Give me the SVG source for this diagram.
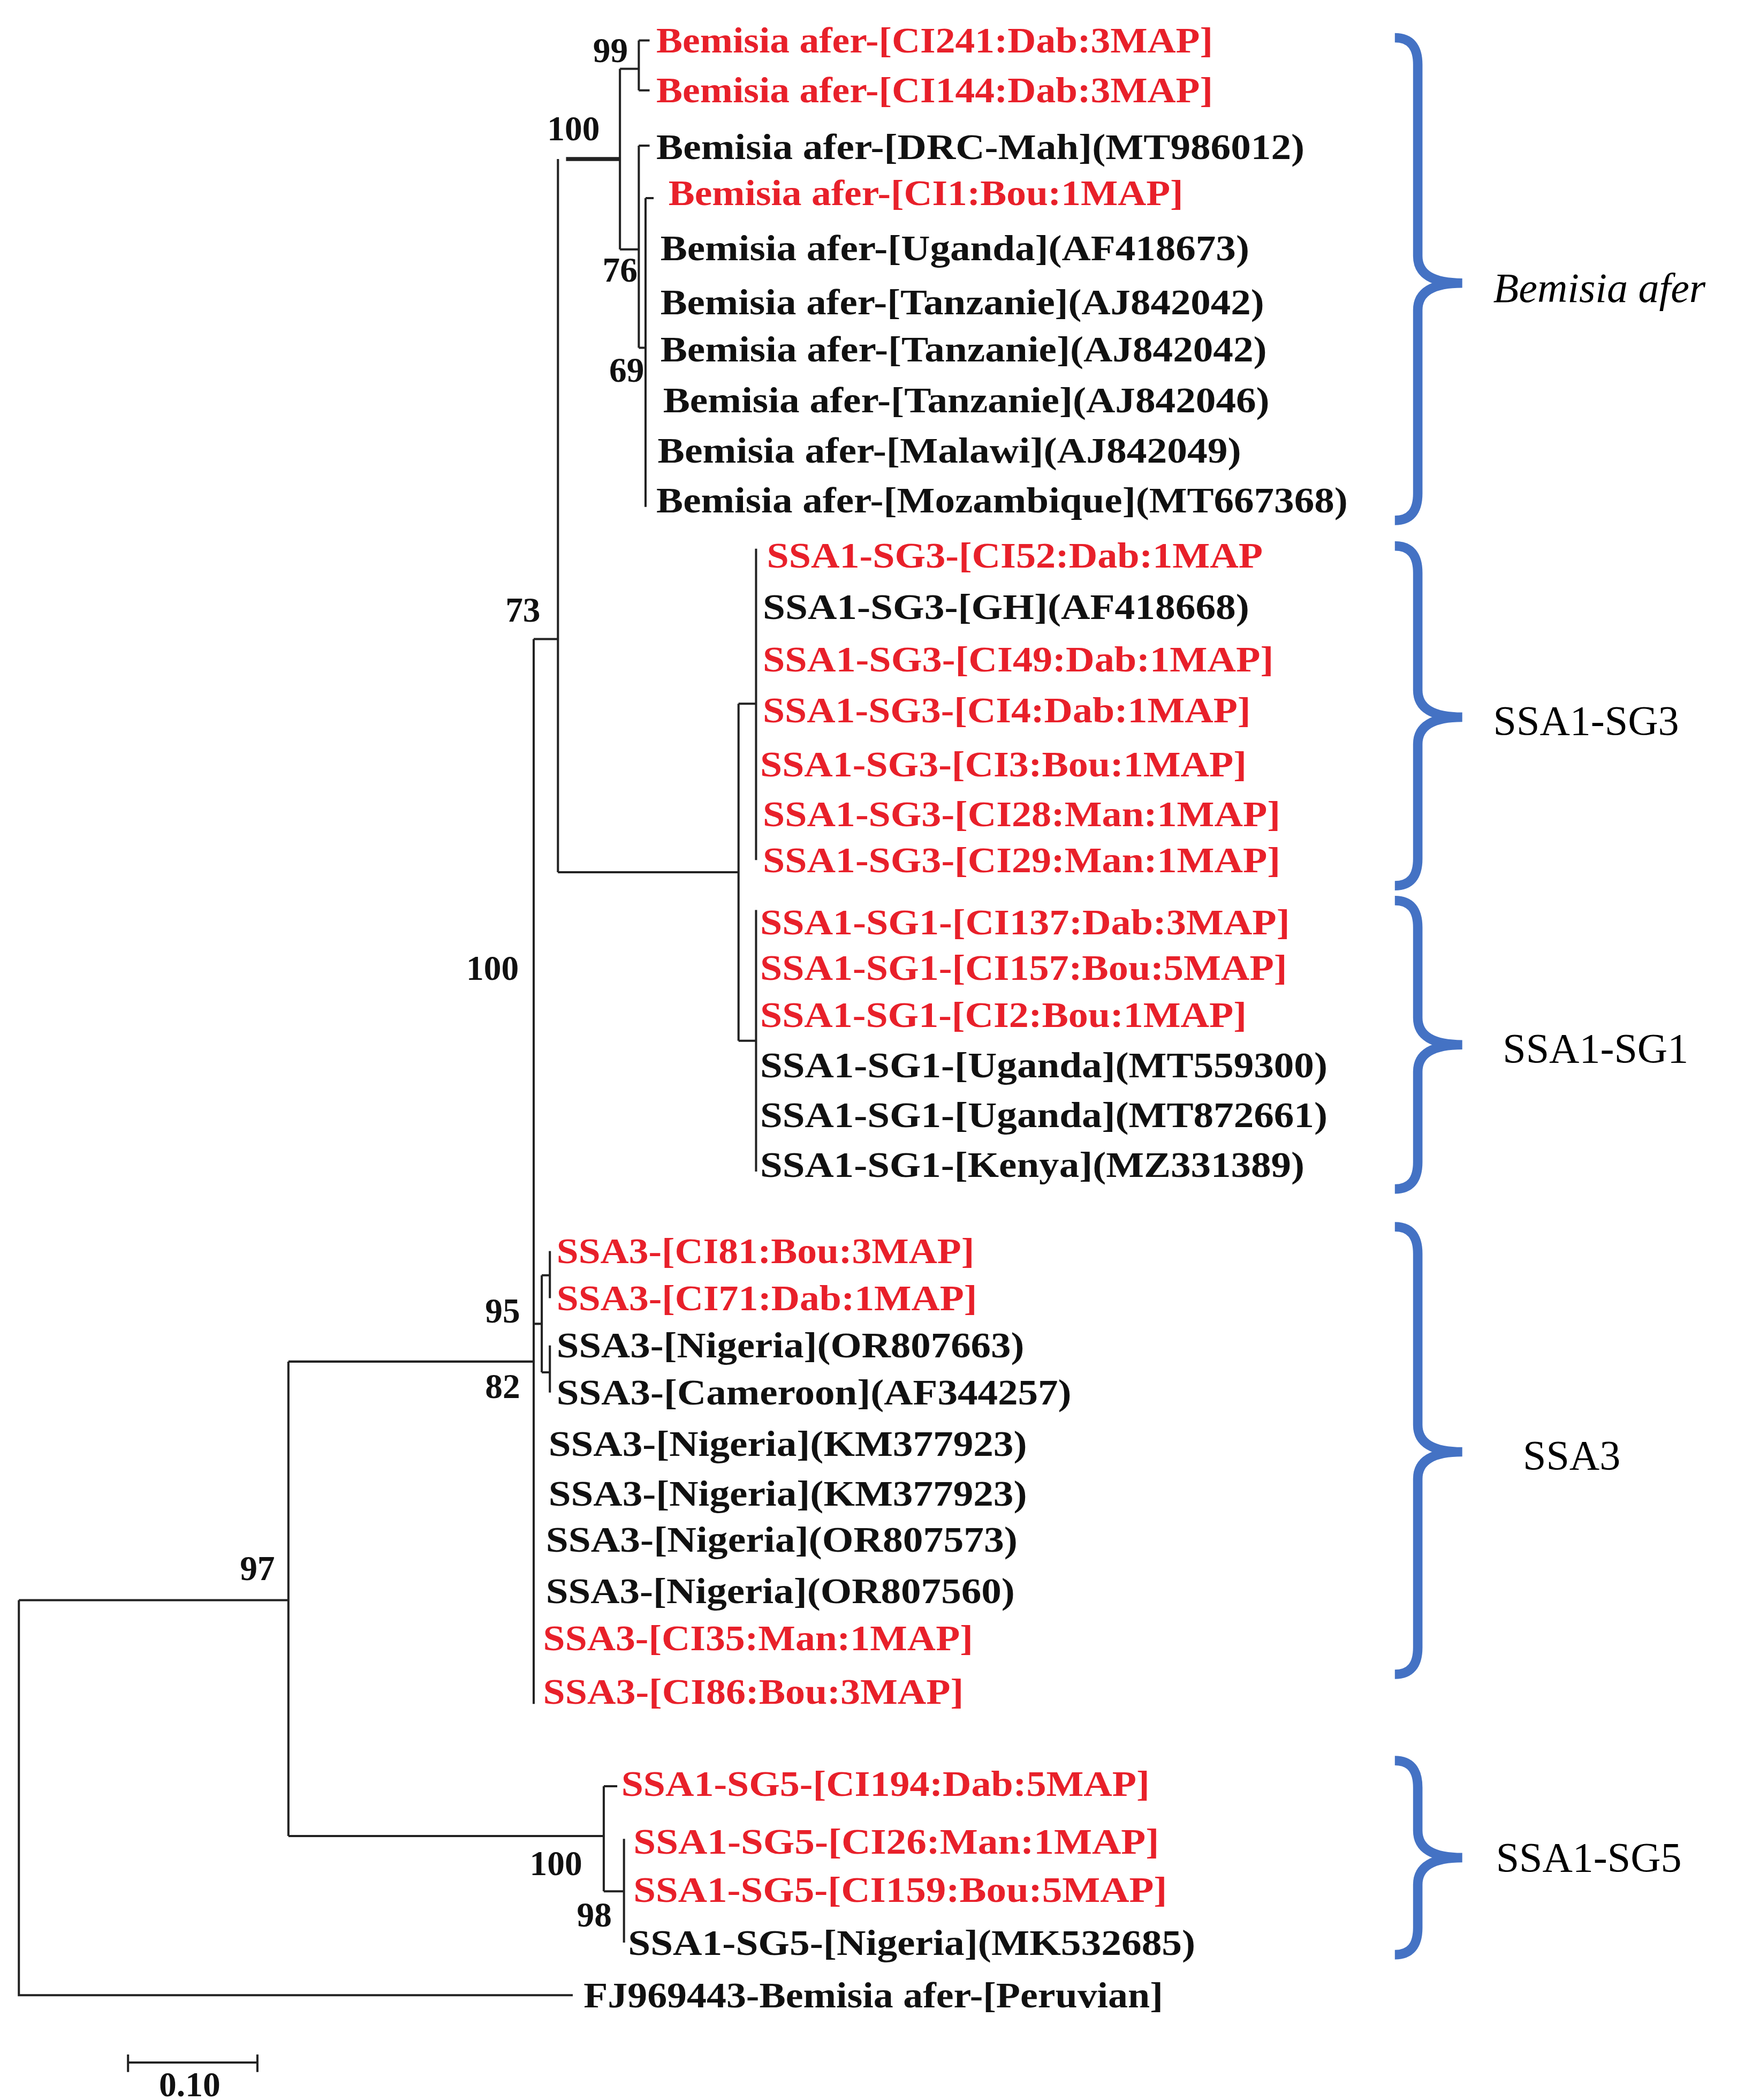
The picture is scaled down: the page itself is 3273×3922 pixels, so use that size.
<svg xmlns="http://www.w3.org/2000/svg" width="3273" height="3922" viewBox="0 0 3273 3922">
<style>
.t{font-family:"Liberation Serif","Times New Roman",serif;font-size:27px;font-weight:bold;fill:#111}
.r{fill:#E8202A}
.b{font-family:"Liberation Serif","Times New Roman",serif;font-size:26px;font-weight:bold;fill:#111}
.l{fill:none;stroke:#222;stroke-width:1.6}
.br{fill:none;stroke:#4472C4;stroke-width:7;stroke-linecap:butt}
.c{font-family:"Liberation Serif","Times New Roman",serif;font-size:31px;fill:#000}
</style>
<rect width="3273" height="3922" fill="#fff"/>
<g transform="scale(2.5177)">
<g id="connectors">
<path class="l" d="M14,1187V1480H425M14,1187H214M214,1010V1362M214,1010H396M214,1362H448"/>
<path class="l" d="M396,474V1264M396,474H414M414,118V647M414,647H548"/>
<path class="l" d="M420,118H460" style="stroke-width:3"/>
<path class="l" d="M460,51V185M460,51H474M474,30V67M474,30H482M474,67H482M460,185H474M474,108V258M474,108H482M474,258H479M479,147V376M479,147H485"/>
<path class="l" d="M548,522V772M548,522H561M561,407V638M548,772H561M561,675V869"/>
<path class="l" d="M396,982H402M402,946V1018M402,946H408M408,928V963M402,1018H408M408,998V1033"/>
<path class="l" d="M448,1325V1403M448,1325H458M448,1403H463M463,1364V1441"/>
<path class="l" d="M95,1530H191M95,1524V1537M191,1524V1537"/>
</g>
<g id="bootstrap">
<text class="b" x="440" y="46">99</text>
<text class="b" x="406" y="104">100</text>
<text class="b" x="447" y="209">76</text>
<text class="b" x="452" y="283">69</text>
<text class="b" x="375" y="461">73</text>
<text class="b" x="346" y="727">100</text>
<text class="b" x="360" y="981">95</text>
<text class="b" x="360" y="1037">82</text>
<text class="b" x="178" y="1172">97</text>
<text class="b" x="393" y="1391">100</text>
<text class="b" x="428" y="1429">98</text>
<text class="b" x="118" y="1555">0.10</text>
</g>
<g id="leaves-afer">
<text class="t r" x="487" y="39" textLength="413" lengthAdjust="spacingAndGlyphs">Bemisia afer-[CI241:Dab:3MAP]</text>
<text class="t r" x="487" y="76" textLength="413" lengthAdjust="spacingAndGlyphs">Bemisia afer-[CI144:Dab:3MAP]</text>
<text class="t" x="487" y="118" textLength="481" lengthAdjust="spacingAndGlyphs">Bemisia afer-[DRC-Mah](MT986012)</text>
<text class="t r" x="496" y="152" textLength="382" lengthAdjust="spacingAndGlyphs">Bemisia afer-[CI1:Bou:1MAP]</text>
<text class="t" x="490" y="193" textLength="437" lengthAdjust="spacingAndGlyphs">Bemisia afer-[Uganda](AF418673)</text>
<text class="t" x="490" y="233" textLength="448" lengthAdjust="spacingAndGlyphs">Bemisia afer-[Tanzanie](AJ842042)</text>
<text class="t" x="490" y="268" textLength="450" lengthAdjust="spacingAndGlyphs">Bemisia afer-[Tanzanie](AJ842042)</text>
<text class="t" x="492" y="306" textLength="450" lengthAdjust="spacingAndGlyphs">Bemisia afer-[Tanzanie](AJ842046)</text>
<text class="t" x="488" y="343" textLength="433" lengthAdjust="spacingAndGlyphs">Bemisia afer-[Malawi](AJ842049)</text>
<text class="t" x="487" y="380" textLength="513" lengthAdjust="spacingAndGlyphs">Bemisia afer-[Mozambique](MT667368)</text>
</g>
<g id="leaves-sg3">
<text class="t r" x="569" y="421" textLength="368" lengthAdjust="spacingAndGlyphs">SSA1-SG3-[CI52:Dab:1MAP</text>
<text class="t" x="566" y="459" textLength="361" lengthAdjust="spacingAndGlyphs">SSA1-SG3-[GH](AF418668)</text>
<text class="t r" x="566" y="498" textLength="379" lengthAdjust="spacingAndGlyphs">SSA1-SG3-[CI49:Dab:1MAP]</text>
<text class="t r" x="566" y="536" textLength="362" lengthAdjust="spacingAndGlyphs">SSA1-SG3-[CI4:Dab:1MAP]</text>
<text class="t r" x="564" y="576" textLength="361" lengthAdjust="spacingAndGlyphs">SSA1-SG3-[CI3:Bou:1MAP]</text>
<text class="t r" x="566" y="613" textLength="384" lengthAdjust="spacingAndGlyphs">SSA1-SG3-[CI28:Man:1MAP]</text>
<text class="t r" x="566" y="647" textLength="384" lengthAdjust="spacingAndGlyphs">SSA1-SG3-[CI29:Man:1MAP]</text>
</g>
<g id="leaves-sg1">
<text class="t r" x="564" y="693" textLength="393" lengthAdjust="spacingAndGlyphs">SSA1-SG1-[CI137:Dab:3MAP]</text>
<text class="t r" x="564" y="727" textLength="391" lengthAdjust="spacingAndGlyphs">SSA1-SG1-[CI157:Bou:5MAP]</text>
<text class="t r" x="564" y="762" textLength="361" lengthAdjust="spacingAndGlyphs">SSA1-SG1-[CI2:Bou:1MAP]</text>
<text class="t" x="564" y="799" textLength="421" lengthAdjust="spacingAndGlyphs">SSA1-SG1-[Uganda](MT559300)</text>
<text class="t" x="564" y="836" textLength="421" lengthAdjust="spacingAndGlyphs">SSA1-SG1-[Uganda](MT872661)</text>
<text class="t" x="564" y="873" textLength="404" lengthAdjust="spacingAndGlyphs">SSA1-SG1-[Kenya](MZ331389)</text>
</g>
<g id="leaves-ssa3">
<text class="t r" x="413" y="937" textLength="310" lengthAdjust="spacingAndGlyphs">SSA3-[CI81:Bou:3MAP]</text>
<text class="t r" x="413" y="972" textLength="312" lengthAdjust="spacingAndGlyphs">SSA3-[CI71:Dab:1MAP]</text>
<text class="t" x="413" y="1007" textLength="347" lengthAdjust="spacingAndGlyphs">SSA3-[Nigeria](OR807663)</text>
<text class="t" x="413" y="1042" textLength="382" lengthAdjust="spacingAndGlyphs">SSA3-[Cameroon](AF344257)</text>
<text class="t" x="407" y="1080" textLength="355" lengthAdjust="spacingAndGlyphs">SSA3-[Nigeria](KM377923)</text>
<text class="t" x="407" y="1117" textLength="355" lengthAdjust="spacingAndGlyphs">SSA3-[Nigeria](KM377923)</text>
<text class="t" x="405" y="1151" textLength="350" lengthAdjust="spacingAndGlyphs">SSA3-[Nigeria](OR807573)</text>
<text class="t" x="405" y="1189" textLength="348" lengthAdjust="spacingAndGlyphs">SSA3-[Nigeria](OR807560)</text>
<text class="t r" x="403" y="1224" textLength="319" lengthAdjust="spacingAndGlyphs">SSA3-[CI35:Man:1MAP]</text>
<text class="t r" x="403" y="1264" textLength="312" lengthAdjust="spacingAndGlyphs">SSA3-[CI86:Bou:3MAP]</text>
</g>
<g id="leaves-sg5">
<text class="t r" x="461" y="1332" textLength="392" lengthAdjust="spacingAndGlyphs">SSA1-SG5-[CI194:Dab:5MAP]</text>
<text class="t r" x="470" y="1375" textLength="390" lengthAdjust="spacingAndGlyphs">SSA1-SG5-[CI26:Man:1MAP]</text>
<text class="t r" x="470" y="1411" textLength="396" lengthAdjust="spacingAndGlyphs">SSA1-SG5-[CI159:Bou:5MAP]</text>
<text class="t" x="466" y="1450" textLength="421" lengthAdjust="spacingAndGlyphs">SSA1-SG5-[Nigeria](MK532685)</text>
<text class="t" x="433" y="1489" textLength="430" lengthAdjust="spacingAndGlyphs">FJ969443-Bemisia afer-[Peruvian]</text>
</g>
<g id="clade-afer">
<path class="br" d="M1035,28Q1052,28 1052,48V190Q1052,210 1085,210Q1052,210 1052,230V366Q1052,386 1035,386"/>
<text class="c" x="1108" y="224" style="font-style:italic">Bemisia afer</text>
</g>
<g id="clade-sg3">
<path class="br" d="M1035,405Q1052,405 1052,425V512Q1052,532 1085,532Q1052,532 1052,552V637Q1052,657 1035,657"/>
<text class="c" x="1108" y="545">SSA1-SG3</text>
</g>
<g id="clade-sg1">
<path class="br" d="M1035,668Q1052,668 1052,688V755Q1052,775 1085,775Q1052,775 1052,795V862Q1052,882 1035,882"/>
<text class="c" x="1115" y="788">SSA1-SG1</text>
</g>
<g id="clade-ssa3">
<path class="br" d="M1035,910Q1052,910 1052,930V1057Q1052,1077 1085,1077Q1052,1077 1052,1097V1222Q1052,1242 1035,1242"/>
<text class="c" x="1130" y="1090">SSA3</text>
</g>
<g id="clade-sg5">
<path class="br" d="M1035,1306Q1052,1306 1052,1326V1358Q1052,1378 1085,1378Q1052,1378 1052,1398V1430Q1052,1450 1035,1450"/>
<text class="c" x="1110" y="1388">SSA1-SG5</text>
</g>
</g>
</svg>
